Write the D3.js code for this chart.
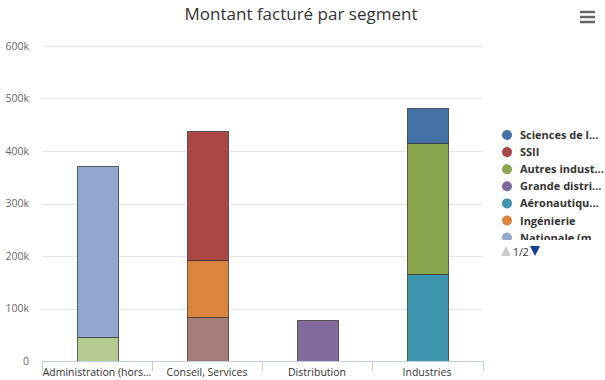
<!DOCTYPE html>
<html>
<head>
<meta charset="utf-8">
<script src="https://cdn.jsdelivr.net/npm/d3@7"></script>
<style>
  body { margin: 0; background: #fff; }
  svg { display: block; font-family: "Open Sans", "DejaVu Sans", sans-serif; }
</style>
</head>
<body>
<div id="chart"></div>
<script>
(function() {

    var width = 605, height = 380;

    // categories (x axis)
    var segments = ["Administration (hors Défense)", "Conseil, Services", "Distribution", "Industries"];

    // series, in legend order (first series is drawn on top of the stack)
    var seriesNames = ["Sciences de la vie", "SSII", "Autres industries", "Grande distribution",
        "Aéronautique, Défense", "Ingénierie", "Nationale (ministères)", "Conseil", "Territoriale"];
    var seriesColors = ["#4572A7", "#AA4643", "#89A54E", "#80699B", "#3D96AE",
        "#DB843D", "#92A8CD", "#A47D7C", "#B5CA92"];

    // values per series, one per segment
    var sciences   = [0, 0, 0, 65000];
    var ssii       = [0, 247000, 0, 0];
    var autres     = [0, 0, 0, 251000];
    var grande     = [0, 0, 79000, 0];
    var aero       = [0, 0, 0, 165000];
    var ingenierie = [0, 108000, 0, 0];
    var nationale  = [327000, 0, 0, 0];
    var conseil    = [0, 84000, 0, 0];
    var territo    = [45000, 0, 0, 0];
    var seriesValues = [sciences, ssii, autres, grande, aero, ingenierie, nationale, conseil, territo];

    var yTicks = [0, 100000, 200000, 300000, 400000, 500000, 600000];

    var svg = d3.select("#chart")
        .append("svg")
        .attr("width", width)
        .attr("height", height);

    var x = d3.scaleBand()
        .domain(segments)
        .range([42, 482]);
    var y = d3.scaleLinear()
        .domain([0, 600000])
        .range([361, 46]);

    // title
    svg.append("text")
        .attr("x", 301)
        .attr("y", 20)
        .attr("text-anchor", "middle")
        .style("font-size", "17px")
        .style("fill", "#333333")
        .text("Montant facturé par segment");

    // grid
    svg.append("g")
        .selectAll("line")
        .data(yTicks.slice(1))
        .enter()
        .append("line")
        .attr("x1", 42)
        .attr("x2", 483)
        .attr("y1", function(d) { return Math.round(y(d)) + 0.5; })
        .attr("y2", function(d) { return Math.round(y(d)) + 0.5; })
        .style("stroke", "#e6e6e6");

    // y axis labels
    var yAxis = d3.axisLeft(y)
        .tickValues(yTicks)
        .tickSize(0)
        .tickPadding(0)
        .tickFormat(function(d) { return d === 0 ? "0" : (d / 1000) + "k"; });
    var yg = svg.append("g")
        .attr("transform", "translate(29,0)")
        .call(yAxis);
    yg.select(".domain").remove();
    yg.selectAll("text")
        .style("font-size", "10.5px")
        .style("fill", "#666666")
        .style("font-family", "'Open Sans', sans-serif");

    // stacked bars
    var rows = segments.map(function(s, i) {
        var row = { segment: s };
        seriesValues.forEach(function(vals, k) { row[k] = vals[i]; });
        return row;
    });
    var keys = d3.range(seriesValues.length).reverse(); // last series at the bottom
    var stacked = d3.stack().keys(keys)(rows);

    var barW = 41;
    stacked.forEach(function(layer) {
        svg.append("g")
            .selectAll("rect")
            .data(layer.filter(function(d) { return d[1] > d[0]; }))
            .enter()
            .append("rect")
            .attr("x", function(d) { return Math.round(x(d.data.segment) + x.bandwidth() / 2 - barW / 2) + 0.5; })
            .attr("width", barW)
            .attr("y", function(d) { return Math.round(y(d[1])) + 0.5; })
            .attr("height", function(d) { return Math.round(y(d[0])) - Math.round(y(d[1])); })
            .style("fill", seriesColors[layer.key])
            .style("stroke", "#333333")
            .style("stroke-opacity", 0.75);
    });

    // x axis
    var xg = svg.append("g");
    xg.append("line")
        .attr("x1", 42).attr("x2", 483)
        .attr("y1", 361.5).attr("y2", 361.5)
        .style("stroke", "#C0D0E0");
    var edges = segments.map(function(s) { return x(s); }).concat([x.range()[1] + 1]);
    xg.selectAll(".tick")
        .data(edges)
        .enter()
        .append("line")
        .attr("x1", function(d) { return Math.round(d) + 0.5; })
        .attr("x2", function(d) { return Math.round(d) + 0.5; })
        .attr("y1", 361)
        .attr("y2", 371)
        .style("stroke", "#C0D0E0");

    function fitText(sel, maxW) {
        sel.each(function(d) {
            var node = d3.select(this);
            var full = node.text();
            if (this.getComputedTextLength() <= maxW) return;
            var n = full.length;
            while (n > 1) {
                n--;
                node.text(full.substring(0, n) + "...");
                if (this.getComputedTextLength() <= maxW) break;
            }
        });
    }

    xg.selectAll(".xlab")
        .data(segments)
        .enter()
        .append("text")
        .attr("x", function(d) { return x(d) + x.bandwidth() / 2; })
        .attr("y", 376)
        .attr("text-anchor", "middle")
        .style("font-size", "10.5px")
        .style("fill", "#333333")
        .text(function(d) { return d; })
        .call(fitText, 110);

    // legend (page 1 of 2, clipped)
    svg.append("clipPath")
        .attr("id", "legclip")
        .append("rect")
        .attr("x", 495).attr("y", 125)
        .attr("width", 120).attr("height", 115);

    var leg = svg.append("g").attr("clip-path", "url(#legclip)");
    var item = leg.selectAll(".item")
        .data(seriesNames.slice(0, 8))
        .enter()
        .append("g")
        .attr("transform", function(d, i) { return "translate(0," + (135 + i * 17.1) + ")"; });
    item.append("circle")
        .attr("cx", 507)
        .attr("cy", 0)
        .attr("r", 5)
        .style("fill", function(d, i) { return seriesColors[i]; });
    item.append("text")
        .attr("x", 520)
        .attr("y", 4)
        .style("font-size", "11px")
        .style("font-weight", "bold")
        .style("fill", "#333333")
        .text(function(d) { return d; })
        .call(fitText, 84);

    // legend navigation
    svg.append("path")
        .attr("d", "M501,256 L506,246 L511,256 Z")
        .style("fill", "#cccccc");
    svg.append("text")
        .attr("x", 513)
        .attr("y", 256)
        .style("font-size", "10.5px")
        .style("fill", "#333333")
        .text("1/2");
    svg.append("path")
        .attr("d", "M530,246 L540,246 L535,256 Z")
        .style("fill", "#123f94");

    // export menu button
    svg.append("g")
        .selectAll("line")
        .data([12, 17, 22])
        .enter()
        .append("line")
        .attr("x1", 580).attr("x2", 595)
        .attr("y1", function(d) { return d; })
        .attr("y2", function(d) { return d; })
        .style("stroke", "#666666")
        .style("stroke-width", 2.5);

})();
</script>
</body>
</html>
